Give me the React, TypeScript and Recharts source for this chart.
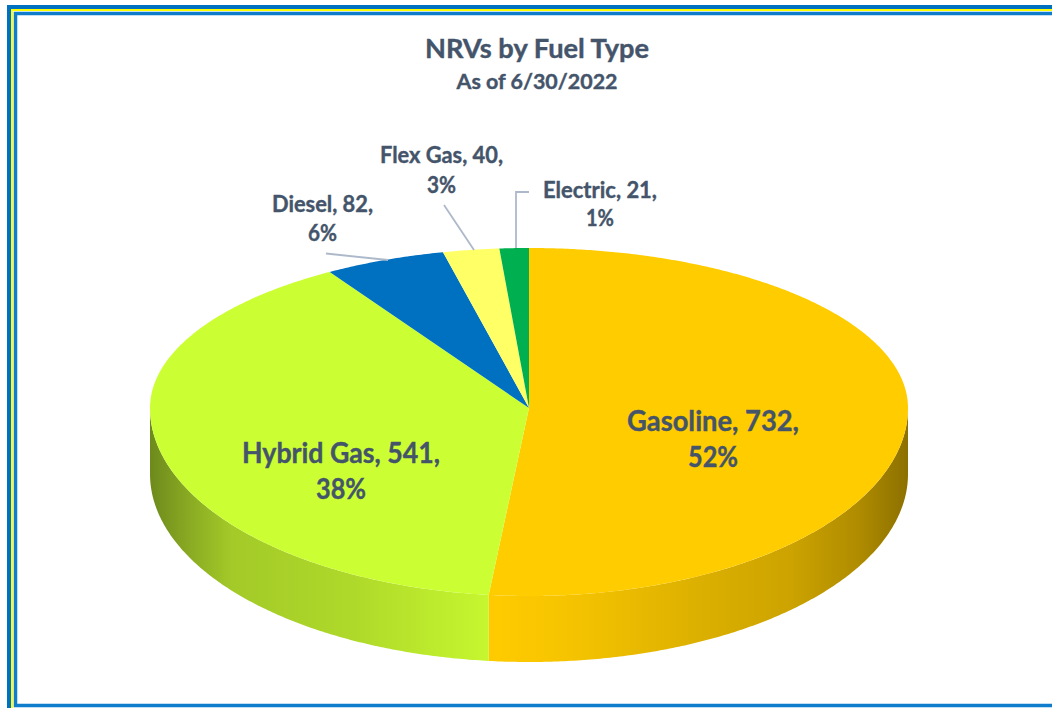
import { PieChart, Pie } from "recharts";

const categories = ["Gasoline", "Hybrid Gas", "Diesel", "Flex Gas", "Electric"];
const values = [732, 541, 82, 40, 21];
const percents = ["52%", "38%", "6%", "3%", "1%"];
const colors = ["#ffcc00", "#ccff33", "#0070c0", "#ffff66", "#00b050"];

const W = 1052;
const H = 708;
const CX = 529;
const CY = 408;
const RX = 379;
const RY_TOP = 160;
const RY_BOTTOM = 188;
const DEPTH = 66;
const TEXT = "#44546a";
const FONT = "Lato, Carlito, sans-serif";

// label layout per slice: [center x, baseline 1, width 1, baseline 2, width 2, size]
const labelLayout = [
  [713, 431, 172, 467, 50, 29],
  [341, 463, 198, 499, 50, 29],
  [322.5, 212, 101, 241, 29, 23],
  [441.5, 163, 123, 193, 29, 23],
  [600, 198, 114, 226, 28, 23],
];
const leaders = [
  null,
  null,
  "M326 253.5L388 260",
  "M444 205L474 250",
  "M529 192L516 192L516 248",
];

// pie angle (degrees, counter-clockwise from east) to a point on the tilted top face
function project(angle: number, dy = 0) {
  const t = ((90 - angle) * Math.PI) / 180; // clockwise from the top
  const s = Math.sin(t);
  const c = Math.cos(t);
  if (c > 0) {
    // the far half is foreshortened
    const p = Math.atan2(0.84 * s, c);
    return [CX + RX * Math.sin(p), CY - RY_TOP * Math.cos(p) + dy];
  }
  return [CX + RX * s, CY - RY_BOTTOM * c + dy];
}

function arcPoints(from: number, to: number, dy = 0) {
  const pts = [];
  const n = Math.max(2, Math.ceil(Math.abs(to - from) * 2));
  for (let i = 0; i <= n; i++) {
    pts.push(project(from + ((to - from) * i) / n, dy));
  }
  return pts;
}

const toPath = (pts: number[][]) =>
  pts.map((p, i) => (i ? "L" : "M") + p[0].toFixed(2) + " " + p[1].toFixed(2)).join("");

function TopSlice(props: any) {
  const { startAngle, endAngle, fill } = props;
  const d = "M" + CX + " " + CY + toPath(arcPoints(startAngle, endAngle)).replace("M", "L") + "Z";
  return <path d={d} fill={fill} />;
}

function RimSlice(props: any) {
  const { startAngle, endAngle, fill } = props;
  // only the near half of the rim shows; 0 and -180 are the left and right extremes
  const from = Math.min(startAngle, 0);
  const to = Math.max(endAngle, -180);
  if (from <= to) return <g />;
  const top = arcPoints(from, to);
  const bottom = arcPoints(to, from, DEPTH);
  return <path d={toPath([...top, ...bottom]) + "Z"} fill={fill} />;
}

function SliceLabel(props: any) {
  const i = props.index;
  const [x, y1, w1, y2, w2, size] = labelLayout[i];
  const line = leaders[i];
  const style = { fontFamily: FONT, fontWeight: 700, fontSize: size, fill: TEXT, stroke: TEXT, strokeWidth: 0.4 };
  return (
    <g>
      {line && <path d={line} fill="none" stroke="#adb9ca" strokeWidth={1.8} />}
      <text x={x} y={y1} textAnchor="middle" textLength={w1} lengthAdjust="spacingAndGlyphs" style={style}>
        {`${categories[i]}, ${values[i]},`}
      </text>
      <text x={x} y={y2} textAnchor="middle" textLength={w2} lengthAdjust="spacingAndGlyphs" style={style}>
        {percents[i]}
      </text>
    </g>
  );
}

const topData = categories.map((name, i) => ({ name, value: values[i], fill: colors[i] }));
const rimData = categories.map((name, i) => ({ name, value: values[i], fill: `url(#rim${i})` }));

const gasolineRim = [
  [0, "#ffcb00"],
  [0.18, "#f6c400"],
  [0.5, "#dcb000"],
  [0.72, "#cca300"],
  [0.88, "#b08c00"],
  [1, "#8c7000"],
];
const hybridRim = [
  [0, "#6d8a1c"],
  [0.1, "#86a622"],
  [0.24, "#a3ca28"],
  [0.6, "#afd92a"],
  [1, "#c6f72f"],
];

export default function App() {
  return (
    <div style={{ position: "absolute", left: 0, top: 0, width: W, height: H, overflow: "hidden", background: "#fff" }}>
      <PieChart width={W} height={H} margin={{ top: 0, right: 0, bottom: 0, left: 0 }}>
        <defs>
          <linearGradient id="rim0" gradientUnits="userSpaceOnUse" x1={490} x2={908} y1={0} y2={0}>
            {gasolineRim.map(([o, c]) => (
              <stop key={o} offset={o} stopColor={c as string} />
            ))}
          </linearGradient>
          <linearGradient id="rim1" gradientUnits="userSpaceOnUse" x1={150} x2={490} y1={0} y2={0}>
            {hybridRim.map(([o, c]) => (
              <stop key={o} offset={o} stopColor={c as string} />
            ))}
          </linearGradient>
        </defs>
        <path d="M1052 7H9V708" fill="none" stroke="#0070c0" strokeWidth={4} />
        <path d="M1052 10H12V708" fill="none" stroke="#ffff00" strokeWidth={2} />
        <path d="M1052 13.5H15.5V705.5H1052" fill="none" stroke="#0f7dcb" strokeWidth={3.5} />
        <text x={537} y={58} textAnchor="middle" textLength={224} lengthAdjust="spacingAndGlyphs"
          style={{ fontFamily: FONT, fontWeight: 700, fontSize: 27, fill: TEXT, stroke: TEXT, strokeWidth: 0.4 }}>
          NRVs by Fuel Type
        </text>
        <text x={537} y={89} textAnchor="middle" textLength={161} lengthAdjust="spacingAndGlyphs"
          style={{ fontFamily: FONT, fontWeight: 700, fontSize: 21, fill: TEXT, stroke: TEXT, strokeWidth: 0.4 }}>
          As of 6/30/2022
        </text>
        <Pie data={rimData} dataKey="value" nameKey="name" cx={CX} cy={CY} outerRadius={RX} startAngle={90} endAngle={-270}
          stroke="none" shape={RimSlice} isAnimationActive={false} />
        <Pie data={topData} dataKey="value" nameKey="name" cx={CX} cy={CY} outerRadius={RX} startAngle={90} endAngle={-270}
          stroke="none" shape={TopSlice} label={SliceLabel} labelLine={false} isAnimationActive={false} />
      </PieChart>
    </div>
  );
}
